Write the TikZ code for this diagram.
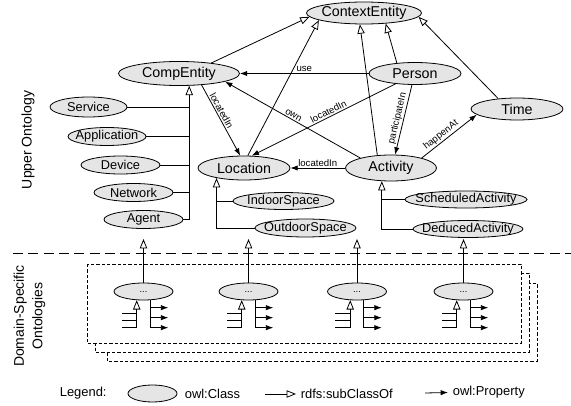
\documentclass[tikz,border=0pt]{standalone}
\usepackage{fontspec}
\setmainfont{Liberation Sans}
\usetikzlibrary{arrows.meta,shapes.geometric}
\tikzset{
	cls/.style={ellipse,draw,fill=gray!20,inner sep=-20pt},
	bigcls/.style={cls,font=\fontsize{10.7}{12}\selectfont},
	smallcls/.style={cls,font=\fontsize{9.6}{11}\selectfont},
	dotcls/.style={cls,minimum width=44.25pt,minimum height=12.75pt,font=\fontsize{7}{8}\selectfont},
	subof/.style={-{Triangle[open,length=7pt,width=5.5pt]}},
	prop/.style={-{Latex[length=5.5pt,width=4pt]}},
	propback/.style={{Latex[length=5.5pt,width=4pt]}-},
	lbl/.style={font=\fontsize{7.2}{8}\selectfont,inner sep=1pt},
	sidelbl/.style={rotate=90,align=center,font=\fontsize{10.5}{14}\selectfont},
	legtxt/.style={anchor=west,font=\fontsize{9.7}{11}\selectfont},
	sepline/.style={dash pattern=on 7.5pt off 4pt},
	boxline/.style={dash pattern=on 2.4pt off 1.6pt,fill=white}
}
\begin{document}
\begin{tikzpicture}[x=0.75pt,y=-0.75pt,line width=0.6pt,line cap=butt,line join=miter]
		\useasboundingbox (0,0) rectangle (571,406);
		% upper ontology
		\node[bigcls,minimum width=86.25pt,minimum height=16.5pt] (ContextEntity) at (364,13) {ContextEntity};
		\node[bigcls,minimum width=90.75pt,minimum height=18pt] (CompEntity) at (179,73.5) {CompEntity};
		\node[bigcls,minimum width=69pt,minimum height=16.5pt] (Person) at (415,73.5) {Person};
		\node[bigcls,minimum width=69pt,minimum height=16.5pt] (Time) at (517,109) {Time};
		\node[bigcls,minimum width=69pt,minimum height=18pt] (Location) at (244,168) {Location};
		\node[bigcls,minimum width=68.25pt,minimum height=19.5pt] (Activity) at (391,168) {Activity};
		\node[smallcls,minimum width=57.75pt,minimum height=15pt] (Service) at (88.5,107) {Service};
		\node[smallcls,minimum width=58.5pt,minimum height=13.5pt] (Application) at (107,136.5) {Application};
		\node[smallcls,minimum width=59.25pt,minimum height=13.5pt] (Device) at (120.5,165) {Device};
		\node[smallcls,minimum width=59.25pt,minimum height=13.5pt] (Network) at (133.5,192.5) {Network};
		\node[smallcls,minimum width=59.25pt,minimum height=13.5pt] (Agent) at (143.5,219.5) {Agent};
		\node[smallcls,minimum width=75.75pt,minimum height=12.75pt] (IndoorSpace) at (283.5,201) {IndoorSpace};
		\node[smallcls,minimum width=75.75pt,minimum height=13.5pt] (OutdoorSpace) at (305.5,228) {OutdoorSpace};
		\node[smallcls,minimum width=91.5pt,minimum height=12.75pt] (ScheduledActivity) at (466,199.5) {ScheduledActivity};
		\node[smallcls,minimum width=82.5pt,minimum height=12.75pt] (DeducedActivity) at (468,229) {DeducedActivity};
		% subclasses of ContextEntity
		\draw[subof] (CompEntity.18) -- (ContextEntity.184);
		\draw[subof] (Location.73) -- (ContextEntity.189);
		\draw[subof] (Activity.137) -- (ContextEntity.250);
		\draw[subof] (Person.150) -- (ContextEntity.334);
		\draw[subof] (Time.151) -- (ContextEntity.356);
		% properties
		\draw[prop] (Person.west) -- node[lbl,above] (use) {use} (CompEntity.east);
		\draw[prop] (CompEntity.333) -- node[lbl,above,sloped,pos=0.4] (locin1) {locatedIn} (Location.107);
		\draw[propback] (Location.58) -- node[lbl,above,sloped,pos=0.55] (locin2) {locatedIn} (Person.208);
		\draw[propback] (CompEntity.350) -- node[lbl,above,sloped,pos=0.49] (own) {own} (Activity.162);
		\draw[prop] (Activity.west) -- node[lbl,above] (locin3) {locatedIn} (Location.east);
		\draw[propback] (Activity.73) -- node[lbl,above,sloped] (partin) {participateIn} (Person.255);
		\draw[prop] (Activity.18) -- node[lbl,above,sloped,pos=0.42] (hapat) {happenAt} (Time.188);
		% subclass trees
		\draw[subof] (Agent.east) -| (CompEntity.310);
		\foreach \n in {Service,Application,Device,Network}
			\draw (\n.east) -- (\n.east -| CompEntity.310);
		\draw[subof] (OutdoorSpace.west) -| (Location.200);
		\draw (IndoorSpace.west) -- (IndoorSpace.west -| Location.200);
		\draw[subof] (DeducedActivity.west) -| (Activity.235);
		\draw (ScheduledActivity.west) -- (ScheduledActivity.west -| Activity.235);
		% separator
		\coordinate (sepL) at (13,253);
		\coordinate (sepR) at (571,253);
		\draw[sepline] (sepL) -- (sepR);
		% domain-specific ontologies
		\draw[boxline] (107,283) rectangle (537,361);
		\draw[boxline] (95,273) rectangle (529,352);
		\draw[boxline] (87,264) rectangle (521,343);
		\coordinate (tipline) at (0,239);
		\foreach \x [count=\i] in {143.5,248.5,357,463.5}{
			\node[dotcls] (d\i) at (\x,291.5) {...};
			\draw[subof] (d\i.north) -- (d\i.north |- tipline);
			\path (d\i.232) ++(0,27.5) coordinate (s\i);
			\draw[subof] (s\i) -- (d\i.232);
			\foreach \k in {13.5,20.5,27.5}
				\draw (d\i.232) ++(0,\k) -- ++(-15,0);
			\draw (d\i.308) -- ++(0,27.5);
			\foreach \k in {7.5,17.5,27.5}
				\draw[prop] (d\i.308) ++(0,\k) -- ++(18,0);
		}
		% side labels
		\node[sidelbl] (upperlbl) at (28,140) {Upper Ontology};
		\node[sidelbl] (domainlbl) at (29.5,316) {Domain-Specific\\Ontologies};
		% legend
		\node[legtxt] (legend) at (55,393) {Legend:};
		\node[cls,minimum width=36.75pt,minimum height=12.75pt] (lgcls) at (152.5,393.5) {};
		\node[legtxt] (lgclstxt) at (180,393.5) {owl:Class};
		\coordinate (lgsubA) at (265,394);
		\node[legtxt] (lgsubtxt) at (296,394) {rdfs:subClassOf};
		\draw[subof] (lgsubA) -- (lgsubtxt.west);
		\coordinate (lgpropA) at (425,393);
		\node[legtxt] (lgproptxt) at (448,392.5) {owl:Property};
		\draw[prop] (lgpropA) -- (lgproptxt.west);
	\end{tikzpicture}
\end{document}
